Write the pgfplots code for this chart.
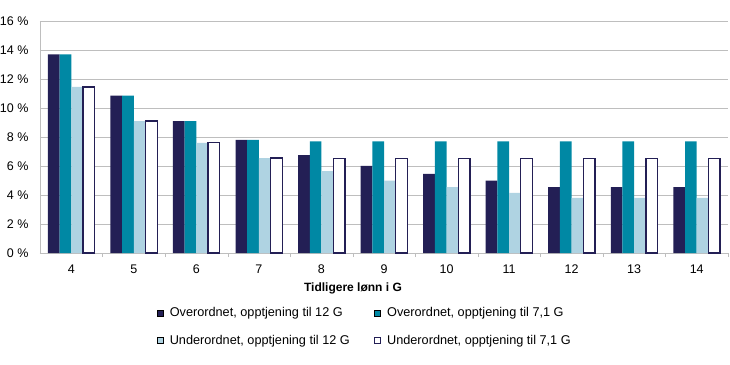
\documentclass[border=0pt]{standalone}
\usepackage{fontspec}
\setmainfont{Liberation Sans}
\usepackage{pgfplots}
\pgfplotsset{compat=1.18}
\definecolor{navy}{HTML}{231F55}
\definecolor{teal2}{HTML}{0088A4}
\definecolor{lblue}{HTML}{AFD3E2}
\definecolor{gridc}{HTML}{BEBEBE}
\begin{document}
\begin{tikzpicture}
\useasboundingbox (0pt,0pt) rectangle (730pt,364pt);
\begin{axis}[
  at={(40pt,111pt)}, anchor=south west,
  scale only axis, width=688pt, height=232pt,
  xmin=3.5, xmax=14.5, ymin=0, ymax=16,
  ybar=0pt, bar width=11.7pt,
  ytick={0,2,...,16},
  yticklabel={\pgfmathprintnumber{\tick} \%},
  xtick={4,...,14},
  minor xtick={4.5,5.5,...,14.5},
  major tick length=0pt, minor tick length=4pt,
  tick align=outside,
  tick style={gridc},
  ymajorgrids, grid style={gridc, line width=0.8pt},
  axis x line*=bottom, axis y line*=left,
  axis line style={gridc, line width=0.8pt, -},
  /pgf/number format/assume math mode=true,
  tick label style={font=\fontsize{12.5}{14}\selectfont},
  yticklabel style={xshift=-8pt},
  xticklabel style={yshift=-8pt},
  legend style={at={(0.166,-0.217)}, anchor=north west, draw=none, fill=none,
    legend columns=2, font=\fontsize{12.7}{14}\selectfont,
    /tikz/every even column/.append style={column sep=22pt},
    /tikz/every odd column/.append style={column sep=4pt},
    row sep=13pt},
  legend cell align=left,
  legend image code/.code={\draw[#1] (0pt,-3pt) rectangle (6pt,3pt);},
]
\addplot[fill=navy, draw=none] coordinates {(4,13.7) (5,10.85) (6,9.1) (7,7.8) (8,6.75) (9,6.0) (10,5.45) (11,5.0) (12,4.55) (13,4.55) (14,4.55)};
\addlegendentry{Overordnet, opptjening til 12 G}
\addplot[fill=teal2, draw=none] coordinates {(4,13.7) (5,10.85) (6,9.1) (7,7.8) (8,7.7) (9,7.7) (10,7.7) (11,7.7) (12,7.7) (13,7.7) (14,7.7)};
\addlegendentry{Overordnet, opptjening til 7,1 G}
\addplot[fill=lblue, draw=none] coordinates {(4,11.45) (5,9.1) (6,7.6) (7,6.55) (8,5.65) (9,5.0) (10,4.55) (11,4.15) (12,3.8) (13,3.8) (14,3.8)};
\addlegendentry{Underordnet, opptjening til 12 G}
\addplot[fill=white, draw=navy, line width=1.3pt] coordinates {(4,11.45) (5,9.1) (6,7.6) (7,6.55) (8,6.5) (9,6.5) (10,6.5) (11,6.5) (12,6.5) (13,6.5) (14,6.5)};
\addlegendentry{Underordnet, opptjening til 7,1 G}
\end{axis}
\node[font=\bfseries\fontsize{12}{14}\selectfont] at (353pt,76pt) {Tidligere lønn i G};
\end{tikzpicture}
\end{document}
